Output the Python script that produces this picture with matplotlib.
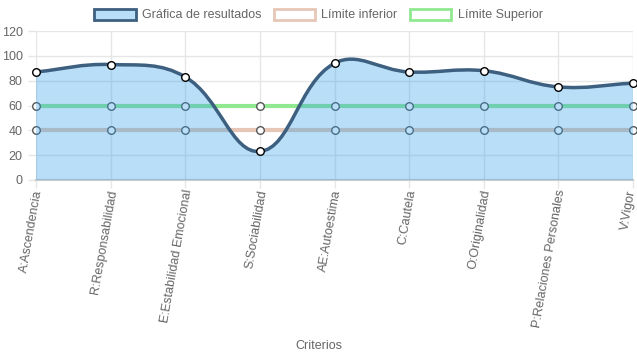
import numpy as np
import matplotlib
matplotlib.use("Agg")
import matplotlib.pyplot as plt
import matplotlib.transforms as mtransforms
from matplotlib.path import Path
from matplotlib.patches import PathPatch, Patch

plt.rcParams['font.family'] = ['Liberation Sans', 'DejaVu Sans']

# data
criterios = ['A:Ascendencia', 'R:Responsabilidad', 'E:Estabilidad Emocional', 'S:Sociabilidad',
             'AE:Autoestima', 'C:Cautela', 'O:Originalidad', 'P:Relaciones Personales', 'V:Vigor']
resultados = [87, 93, 83, 23, 94, 87, 88, 75, 78]
limite_inferior = [40, 40, 40, 40, 40, 40, 40, 40, 40]
limite_superior = [60, 60, 60, 60, 60, 60, 60, 60, 60]

blue_line = '#3d5f80'
blue_fill = (54/255, 162/255, 235/255, 0.35)
peach = '#e6c6b6'
green = '#90e890'
grid_c = '#e6e6e6'
text_c = '#666666'

# pixel scale used for the spline tension (like chart.js)
px_x = 74.6
px_y = 1.242


def spline_path(xs, ys, tension=0.4):
    # cubic bezier control points computed in pixel space
    px = np.array(xs) * px_x
    py = np.array(ys) * px_y
    n = len(px)
    cps = []
    for i in range(n):
        p0 = (px[max(i - 1, 0)], py[max(i - 1, 0)])
        p1 = (px[i], py[i])
        p2 = (px[min(i + 1, n - 1)], py[min(i + 1, n - 1)])
        d01 = np.hypot(p1[0] - p0[0], p1[1] - p0[1])
        d12 = np.hypot(p2[0] - p1[0], p2[1] - p1[1])
        s01 = d01 / (d01 + d12) if d01 + d12 else 0
        s12 = d12 / (d01 + d12) if d01 + d12 else 0
        fa = tension * s01
        fb = tension * s12
        prev = (p1[0] - fa * (p2[0] - p0[0]), p1[1] - fa * (p2[1] - p0[1]))
        nxt = (p1[0] + fb * (p2[0] - p0[0]), p1[1] + fb * (p2[1] - p0[1]))
        cps.append((prev, nxt))
    verts = [(xs[0], ys[0])]
    codes = [Path.MOVETO]
    for i in range(n - 1):
        c1 = cps[i][1]
        c2 = cps[i + 1][0]
        verts += [(c1[0] / px_x, c1[1] / px_y), (c2[0] / px_x, c2[1] / px_y), (xs[i + 1], ys[i + 1])]
        codes += [Path.CURVE4] * 3
    return verts, codes


fig = plt.figure(figsize=(6.37, 3.59), dpi=100)
ax = fig.add_axes([36/637, 1 - 180/359, 597/637, 149/359])

x = np.arange(len(criterios))

# limit lines (drawn below the fill)
ax.plot(x, limite_inferior, color=peach, lw=3, zorder=2)
ax.plot(x, limite_superior, color=green, lw=3, zorder=2)
ax.scatter(x, limite_inferior, s=30, facecolor='white', edgecolor='#555555', lw=1, zorder=3, clip_on=False)
ax.scatter(x, limite_superior, s=30, facecolor='white', edgecolor='#555555', lw=1, zorder=3, clip_on=False)

verts, codes = spline_path(list(x), resultados)
fill_verts = verts + [(x[-1], 0), (x[0], 0), (x[0], resultados[0])]
fill_codes = codes + [Path.LINETO, Path.LINETO, Path.CLOSEPOLY]
ax.add_patch(PathPatch(Path(fill_verts, fill_codes), facecolor=blue_fill, edgecolor='none', zorder=4))
ax.add_patch(PathPatch(Path(verts, codes), facecolor='none', edgecolor=blue_line, lw=2.5, zorder=5))
ax.scatter(x, resultados, s=30, facecolor='white', edgecolor='black', lw=1, zorder=6, clip_on=False)

ax.set_xlim(0, len(criterios) - 1)
ax.set_ylim(0, 120)
ax.set_yticks(range(0, 121, 20))
ax.set_xticks(x)
ax.set_xticklabels(criterios, rotation=80, ha='right', va='center', rotation_mode='anchor')
ax.tick_params(axis='both', colors=grid_c, labelcolor=text_c, labelsize=9, length=6, width=1)
ax.tick_params(axis='x', pad=1)
# shift tick labels a little to the right, like the original (last one stays inside)
xlabels = ax.get_xticklabels()
for i, lbl in enumerate(xlabels):
    dx = 3 if i < len(xlabels) - 1 else -1
    shift = mtransforms.ScaledTranslation(dx/100, 0, fig.dpi_scale_trans)
    lbl.set_transform(lbl.get_transform() + shift)
ax.grid(True, color=grid_c, lw=1, zorder=0)
ax.set_axisbelow(True)
for s in ['top', 'right', 'left']:
    ax.spines[s].set_visible(False)
ax.spines['bottom'].set_color('#cccccc')
ax.spines['bottom'].set_zorder(1)
ax.spines['bottom'].set_linewidth(1.5)

fig.text(0.5, 1 - 346/359, 'Criterios', ha='center', va='center', fontsize=9, color=text_c)

handles = [Patch(facecolor=blue_fill, edgecolor=blue_line, lw=2),
           Patch(facecolor='white', edgecolor=peach, lw=2),
           Patch(facecolor='white', edgecolor=green, lw=2)]
labels = ['Gráfica de resultados', 'Límite inferior', 'Límite Superior']
leg = fig.legend(handles, labels, loc='center', bbox_to_anchor=(0.5, 1 - 15/359), ncol=3,
                 frameon=False, fontsize=9, handlelength=3.3, handleheight=1.0,
                 handletextpad=0.5, columnspacing=1.0, labelcolor=text_c)

fig.savefig('out.png', dpi=100)
